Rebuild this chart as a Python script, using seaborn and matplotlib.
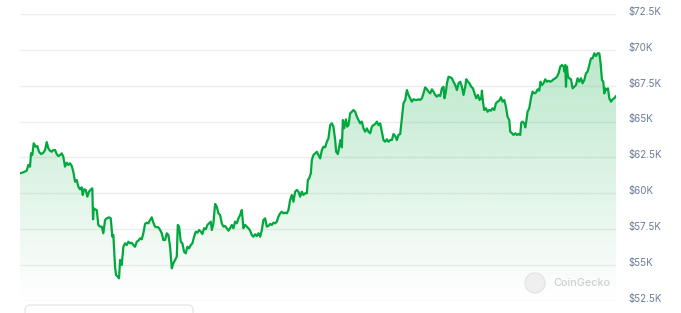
import numpy as np
import pandas as pd
import matplotlib
matplotlib.use("Agg")
import matplotlib.pyplot as plt
import seaborn as sns
from matplotlib.patches import Polygon, FancyBboxPatch, Circle
from matplotlib.colors import to_rgb
import matplotlib.transforms as mtransforms

# ---- data (time index, price in thousands USD) ----
time_idx = [
    0, 3.3, 6.7, 8.3, 10, 11, 12.3, 13.7, 15.7, 17.3,
    19, 21, 23.3, 25, 26.7, 28.3, 30, 31.7, 33.3, 35,
    36.7, 38.3, 40, 41.7, 43.3, 45, 46.7, 48.3, 50, 51.7,
    53.3, 55, 56.7, 58.3, 60, 61.7, 62.7, 64, 65.7, 67.3,
    69, 71, 72.3, 73, 73.7, 75, 76.7, 78.3, 80, 81.7,
    83.3, 85, 86.7, 89, 90.7, 92.3, 93.3, 95, 96, 97.7,
    99,
    100, 101.7, 103.3, 105, 106.7, 108.3, 110, 111.7, 113.3, 115,
    116.7, 118.3, 120, 121.7, 123.3, 125, 126.7, 128.3, 130, 131.7,
    133.3, 135, 136.7, 138.3, 140, 141.7, 143.3, 145, 146.7, 148.3,
    150, 151, 151.7, 153.3, 155, 156.7, 157.7, 159, 160.7, 162.3,
    164, 165.7, 167.3, 169, 170.7, 172.3, 174, 175.7, 177.3, 179,
    180.7, 182.3, 184, 185.7, 187.3, 189, 190.7, 191.7, 193.3, 195,
    196.7, 198.3, 200, 201.7, 203.3, 205, 206.7, 208.3, 210, 211.7,
    213.3, 215, 216.7, 218.3, 220, 221.7, 223.3, 225, 226.7, 228.3,
    230, 231.7, 233.3, 235, 236.7, 238.3, 240, 241.7, 243.3, 245,
    246.7, 248.3, 250, 251.7, 253.3, 255, 256.7, 258.3, 260, 261.7,
    263.3, 265, 266.7, 268.3, 270, 271.7, 273.3, 275, 276.7, 278.3,
    280, 281.7, 283.3, 285, 286.7, 287.7, 289, 290.7, 291.7, 293.3,
    295, 296.7,
    298.3, 300, 301.7, 303.3, 305, 306.7, 308.3, 310, 311.7, 313.3,
    315, 316, 317.7, 319, 320.3, 321.7, 322.7, 324, 325.7, 327,
    328.3, 330, 331.7, 333.3, 335, 336.7, 338.3, 340, 341.7, 343.3,
    345, 346.7, 348.3, 350, 351.7, 353.3, 355, 356.7, 358.3, 360,
    361.7, 363.3, 365, 366.7, 368.3, 370, 371.7, 373.3, 375, 376.7,
    378.3, 380, 381.7, 383.3, 385, 386.7, 388.3, 390, 391.7, 393.3,
    395,
    396.7, 398.3, 400, 401.7, 403.3, 405, 406.7, 408.3, 410, 411.7,
    413.3, 415, 416.7, 418.3, 420, 421.7, 423.3, 424.3, 425.7, 426.7,
    428.3, 430, 431.7, 433.3, 435, 436.7, 438.3, 440, 441.7, 443.3,
    445, 446, 447.7, 449.3, 451, 452.7, 454.3, 456, 457.7, 459.3,
    461, 461.7, 462.7, 464, 465.7, 467.3, 469, 470.7, 472.3, 474,
    475.7, 477.3, 479, 480.7, 482.3, 484, 485.7, 487.3, 489, 490,
    491.7, 493.3, 495, 496.7, 498.3, 500,
    501, 502.3, 504, 505, 506, 507.3, 509, 510.7, 512.3, 514,
    515.7, 517.3, 519, 520.3, 521.7, 523.3, 525, 526.7, 528.3, 530,
    531.7, 533.3, 535, 536.7, 538.3, 540, 541.7, 543.3, 544.3, 545,
    545.7, 546.7, 547.7, 549, 550.7, 552.3, 554, 555.7, 557.3, 559,
    560.7, 562.3, 564, 565.7, 567.3, 569, 570.7, 572.3, 574, 575.7,
    577.3, 579, 580.3, 581.7, 583, 584, 585, 586.3, 587.7, 589,
    590.7, 592.3, 594, 595.7,
]

price_k = [
    61.40, 61.47, 61.58, 61.98, 61.86, 62.79, 62.67, 63.49, 63.25, 63.30,
    62.90, 62.74, 62.83, 63.02, 63.58, 63.14, 62.97, 62.90, 63.02, 63.02,
    62.74, 62.60, 62.67, 62.79, 62.56, 61.86, 62.14, 61.98, 62.10, 61.91,
    61.51, 60.81, 60.93, 60.47, 60.28, 60.42, 59.89, 60.28, 60.24, 59.77,
    60.12, 60.28, 60.35, 58.19, 58.96, 58.89, 58.84, 57.80, 57.68, 57.68,
    57.22, 58.14, 58.26, 58.33, 58.26, 56.98, 57.10, 54.89, 54.31, 54.19,
    54.08,
    55.36, 55.01, 56.28, 56.52, 56.40, 56.63, 56.52, 56.56, 56.40, 56.28,
    56.63, 56.70, 56.87, 56.80, 57.22, 57.87, 57.96, 57.91, 58.14, 58.33,
    57.96, 57.68, 57.64, 57.64, 57.45, 57.22, 56.75, 56.75, 57.22, 57.10,
    56.28, 55.36, 54.78, 55.13, 55.36, 55.59, 57.80, 57.68, 56.63, 56.52,
    55.94, 55.82, 56.28, 56.17, 56.40, 56.52, 56.98, 57.33, 57.26, 57.45,
    57.33, 57.17, 57.57, 57.50, 57.80, 57.91, 58.03, 57.45, 57.91, 59.26,
    59.07, 58.61, 58.49, 57.91, 57.68, 57.73, 57.57, 57.40, 57.57, 57.80,
    57.57, 58.03, 57.91, 58.26, 58.49, 58.84, 57.57, 57.80, 57.68, 57.57,
    57.40, 57.10, 56.98, 57.15, 57.03, 57.22, 56.98, 57.45, 58.14, 58.26,
    57.68, 57.73, 57.87, 57.80, 57.96, 57.91, 58.03, 58.38, 58.61, 58.72,
    58.61, 58.65, 58.61, 58.84, 59.54, 59.89, 59.42, 60.12, 60.24, 60.12,
    59.77, 60.12, 59.89, 60.01, 60.01, 60.93, 61.05, 61.40, 62.33, 62.67,
    62.79, 62.90,
    62.67, 62.44, 63.02, 63.25, 63.21, 63.60, 63.84, 64.76, 64.88, 64.65,
    63.72, 62.90, 62.74, 63.25, 63.72, 63.21, 65.11, 64.53, 65.16, 64.65,
    64.76, 65.58, 65.69, 65.81, 65.69, 65.34, 65.11, 64.88, 65.00, 64.53,
    64.30, 64.53, 64.30, 64.19, 64.65, 64.76, 64.83, 65.00, 64.76, 64.88,
    64.30, 63.72, 63.60, 63.77, 63.60, 63.72, 63.72, 64.14, 64.00, 63.72,
    64.07, 64.14, 65.23, 66.28, 66.51, 67.20, 66.86, 66.63, 66.39, 66.56,
    66.51,
    66.51, 66.56, 66.51, 66.63, 66.97, 67.39, 67.25, 67.09, 66.97, 67.25,
    67.09, 66.86, 66.74, 66.86, 66.79, 67.32, 67.43, 66.63, 67.09, 67.67,
    68.13, 68.09, 68.02, 67.78, 67.55, 67.20, 67.67, 67.78, 67.43, 66.86,
    67.43, 67.95, 67.78, 67.67, 67.43, 67.32, 66.97, 66.63, 66.86, 66.51,
    66.63, 67.16, 66.39, 65.81, 65.93, 65.69, 65.81, 65.76, 65.93, 65.81,
    66.28, 66.39, 66.46, 66.70, 66.39, 66.51, 66.04, 65.34, 65.11, 64.30,
    64.19, 64.07, 64.19, 64.07, 64.14, 64.07,
    64.93, 65.00, 64.88, 64.60, 65.00, 65.69, 65.93, 66.63, 67.09, 66.97,
    67.02, 67.25, 67.16, 67.78, 67.55, 67.67, 67.95, 67.78, 67.85, 67.78,
    67.85, 67.95, 68.02, 68.13, 68.37, 68.83, 68.95, 68.83, 68.48, 68.95,
    67.43, 68.83, 68.13, 68.02, 67.95, 67.32, 67.43, 67.55, 68.02, 67.78,
    68.02, 67.67, 67.90, 68.37, 68.48, 68.95, 69.41, 69.41, 69.76, 69.57,
    69.76, 69.76, 69.06, 67.90, 67.78, 66.97, 67.32, 67.20, 67.32, 66.63,
    66.39, 66.56, 66.63, 66.79,
]

y_ticks = [52.5, 55, 57.5, 60, 62.5, 65, 67.5, 70, 72.5]
y_tick_labels = ["$52.5K", "$55K", "$57.5K", "$60K", "$62.5K",
                 "$65K", "$67.5K", "$70K", "$72.5K"]

LINE_COLOR = "#00a83e"
LABEL_COLOR = "#6b7b96"

sns.set_theme(style="white")
plt.rcParams["font.family"] = ["Inter", "DejaVu Sans"]

W, H = 681, 313
fig = plt.figure(figsize=(W / 100, H / 100), dpi=100)
fig.patch.set_facecolor("white")
ax = fig.add_axes([20 / W, 12 / H, 596 / W, 287 / H])
ax.set_facecolor("white")

df = pd.DataFrame({"time": time_idx, "price": price_k})

# gradient fill under the line
ymin, ymax = y_ticks[0], y_ticks[-1]
verts = [(time_idx[0], ymin)] + list(zip(time_idx, price_k)) + [(time_idx[-1], ymin)]
clip = Polygon(verts, closed=True, facecolor="none", edgecolor="none")
ax.add_patch(clip)
rgb = to_rgb(LINE_COLOR)
n = 256
grad = np.zeros((n, 1, 4))
grad[:, 0, 0] = rgb[0]
grad[:, 0, 1] = rgb[1]
grad[:, 0, 2] = rgb[2]
grad[:, 0, 3] = np.linspace(0.0, 0.27, n)
im = ax.imshow(grad, extent=[time_idx[0], time_idx[-1], ymin, max(price_k)],
               origin="lower", aspect="auto", zorder=1, interpolation="bilinear")
im.set_clip_path(clip)

sns.lineplot(data=df, x="time", y="price", ax=ax, color=LINE_COLOR,
             linewidth=1.6, zorder=3)

ax.set_xlim(time_idx[0], time_idx[-1])
ax.set_ylim(ymin, ymax)
ax.set_aspect("auto")

ax.set_yticks(y_ticks)
ax.set_yticklabels(y_tick_labels)
ax.yaxis.tick_right()
ax.tick_params(axis="y", length=0, pad=9, labelsize=7, labelcolor=LABEL_COLOR)
for lbl in ax.get_yticklabels():
    lbl.set_verticalalignment("baseline")
    lbl.set_transform(lbl.get_transform() +
                      mtransforms.ScaledTranslation(0, -0.6 / 72, fig.dpi_scale_trans))
ax.set_xticks([])
ax.set_xlabel("")
ax.set_ylabel("")
ax.grid(axis="y", color="#eeeeee", linewidth=1)
ax.grid(axis="x", visible=False)
for s in ax.spines.values():
    s.set_visible(False)

# watermark
logo = Circle((535, H - 283), 10, transform=None, facecolor="#efefef",
              edgecolor="#e2e2e2", linewidth=0.8, zorder=5)
fig.patches.append(logo)
fig.text(553 / W, 1 - 283 / H, "CoinGecko", color="#cfcfcf", fontsize=7.8,
         fontweight="medium", va="center", ha="left")

# faint rounded box at the bottom (navigator)
box = FancyBboxPatch((25, -20), 168, 20 + (H - 305), boxstyle="round,pad=0,rounding_size=5",
                     transform=None, facecolor="white", edgecolor="#e8e8e8",
                     linewidth=1, zorder=5)
fig.patches.append(box)

fig.savefig("out.png", dpi=100, facecolor="white")
